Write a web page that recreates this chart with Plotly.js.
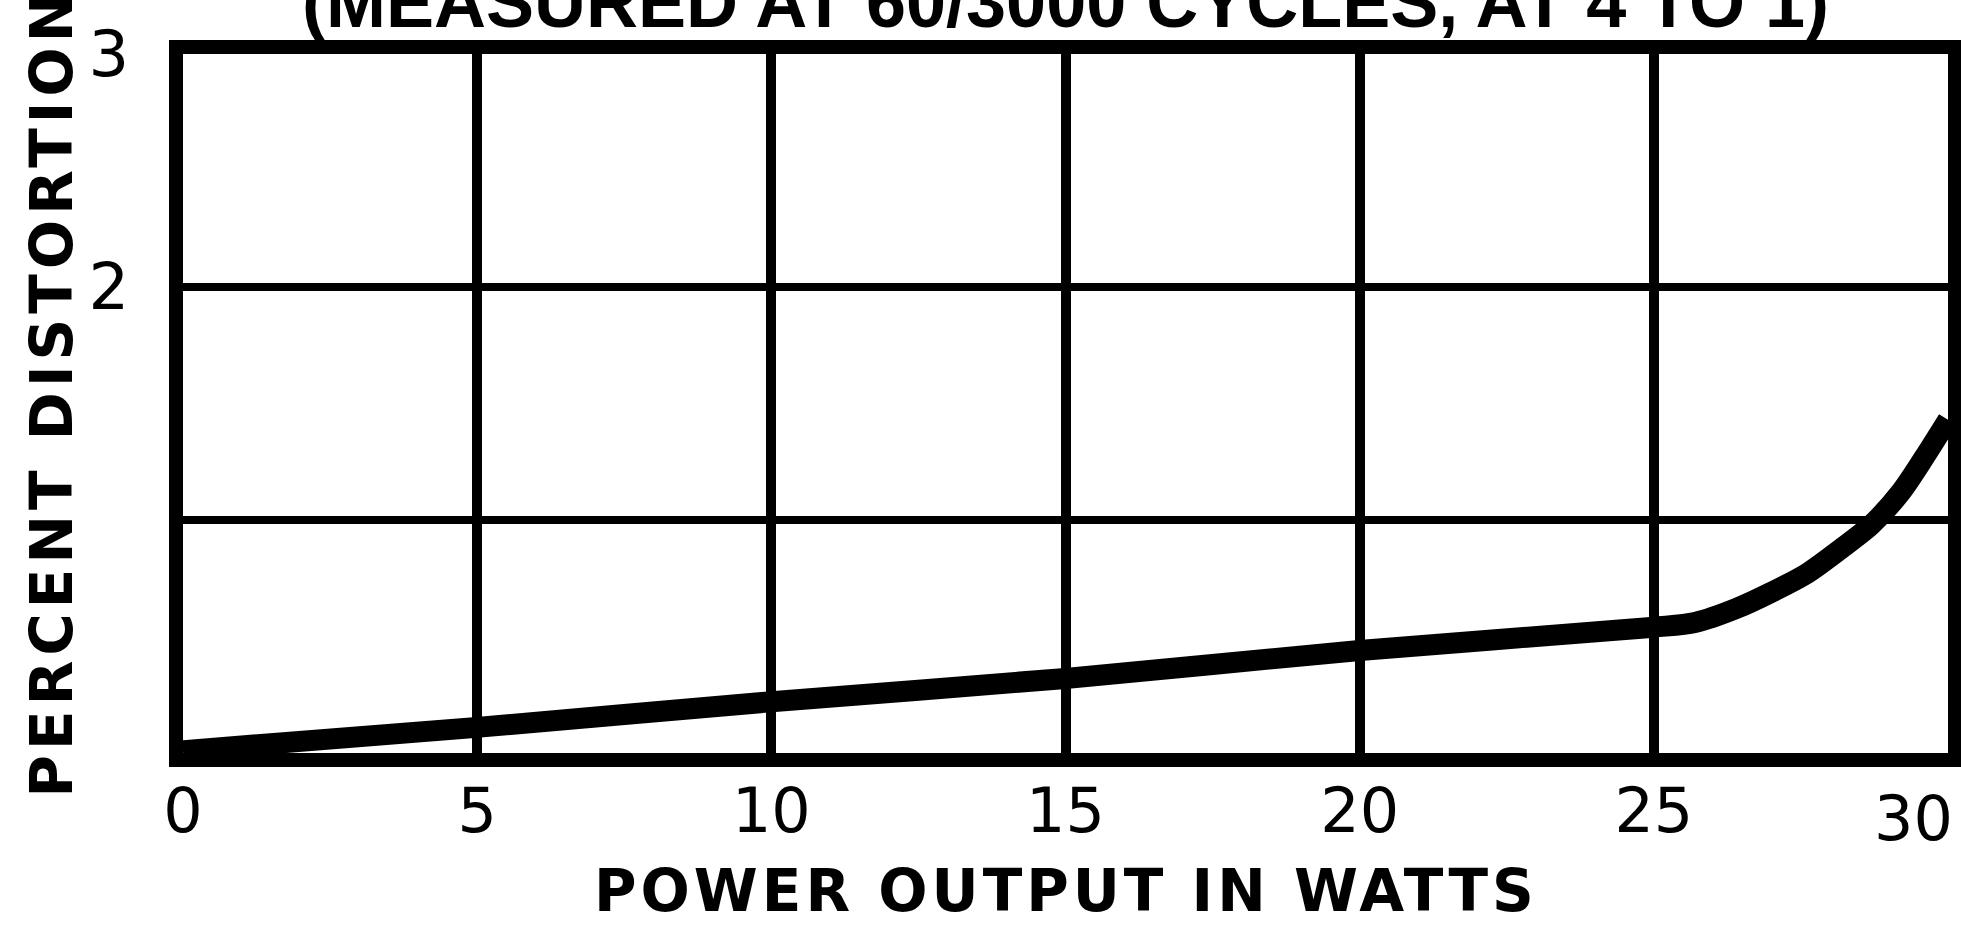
<!DOCTYPE html>
<html>
<head>
<meta charset="utf-8">
<script src="https://cdn.plot.ly/plotly-3.0.1.min.js"></script>
<style>
  html, body { margin: 0; padding: 0; background: #ffffff; }
  #chart { width: 1961px; height: 930px; }
</style>
</head>
<body>
<div id="chart"></div>
<script>
// Power output (watts) vs percent distortion
const powerWatts = [0, 5, 10, 15, 20, 25, 25.7, 26.4, 27.0, 27.6, 28.2, 28.7, 29.2, 29.6, 30];
const percentDistortion = [0.01, 0.11, 0.22, 0.32, 0.44, 0.54, 0.56, 0.62, 0.69, 0.77, 0.88, 0.98, 1.12, 1.27, 1.43];

const xTickVals = [0, 5, 10, 15, 20, 25, 30];
const xTickText = ['0', '5', '10', '15', '20', '25', '30'];
const yTickVals = [1, 2, 3];
const yTickText = ['', '2', '3'];

const titleText = '(MEASURED AT 60/3000 CYCLES, AT 4 TO 1)';
const xTitleText = 'POWER OUTPUT IN WATTS';
const yTitleText = 'PERCENT DISTORTION';

const trace = {
  x: powerWatts,
  y: percentDistortion,
  type: 'scatter',
  mode: 'lines',
  line: { color: '#000000', width: 21, shape: 'spline', smoothing: 0.8 },
  hoverinfo: 'skip',
  showlegend: false
};

const lastIdx = xTickVals.length - 1;

const layout = {
  width: 1961,
  height: 930,
  margin: { l: 183, r: 13, t: 54, b: 177 },
  paper_bgcolor: '#ffffff',
  plot_bgcolor: '#ffffff',
  showlegend: false,
  xaxis: {
    range: [0, 30],
    tickmode: 'array',
    tickvals: xTickVals.slice(0, lastIdx),
    ticktext: xTickText.slice(0, lastIdx),
    ticks: '',
    ticklabelstandoff: -9,
    tickfont: { family: 'DejaVu Sans', size: 62, color: '#000000' },
    showgrid: true,
    gridcolor: '#000000',
    gridwidth: 10,
    zeroline: false,
    showline: true,
    linecolor: '#000000',
    linewidth: 14,
    mirror: true,
    fixedrange: true
  },
  yaxis: {
    range: [0, 3],
    tickmode: 'array',
    tickvals: yTickVals,
    ticktext: yTickText,
    ticks: '',
    ticklabelstandoff: 27,
    tickfont: { family: 'DejaVu Sans', size: 64, color: '#000000' },
    showgrid: true,
    gridcolor: '#000000',
    gridwidth: 8,
    zeroline: false,
    showline: true,
    linecolor: '#000000',
    linewidth: 14,
    mirror: true,
    fixedrange: true
  },
  annotations: [
    {
      text: xTickText[lastIdx],
      x: xTickVals[lastIdx], xref: 'x',
      y: 0, yref: 'paper',
      xanchor: 'center', yanchor: 'top',
      xshift: -35, yshift: -27,
      showarrow: false,
      font: { family: 'DejaVu Sans', size: 62, color: '#000000' }
    },
    {
      text: titleText,
      x: 0.5, xref: 'paper',
      y: 1, yref: 'paper',
      xanchor: 'center', yanchor: 'bottom',
      yshift: 10,
      showarrow: false,
      font: { family: 'Liberation Sans', size: 72, color: '#000000', weight: 'bold' }
    },
    {
      text: '<span style="letter-spacing:4px">' + xTitleText + '</span>',
      x: 0.5, xref: 'paper',
      y: 0, yref: 'paper',
      xanchor: 'center', yanchor: 'middle',
      yshift: -138,
      showarrow: false,
      font: { family: 'DejaVu Sans', size: 58, color: '#000000', weight: 'bold' }
    },
    {
      text: '<span style="letter-spacing:5px">' + yTitleText + '</span>',
      textangle: -90,
      x: 0, xref: 'paper',
      y: 0.5, yref: 'paper',
      xanchor: 'center', yanchor: 'middle',
      xshift: -132, yshift: 10,
      showarrow: false,
      font: { family: 'DejaVu Sans', size: 58, color: '#000000', weight: 'bold' }
    }
  ]
};

Plotly.newPlot('chart', [trace], layout, { displayModeBar: false, staticPlot: true });
</script>
</body>
</html>
